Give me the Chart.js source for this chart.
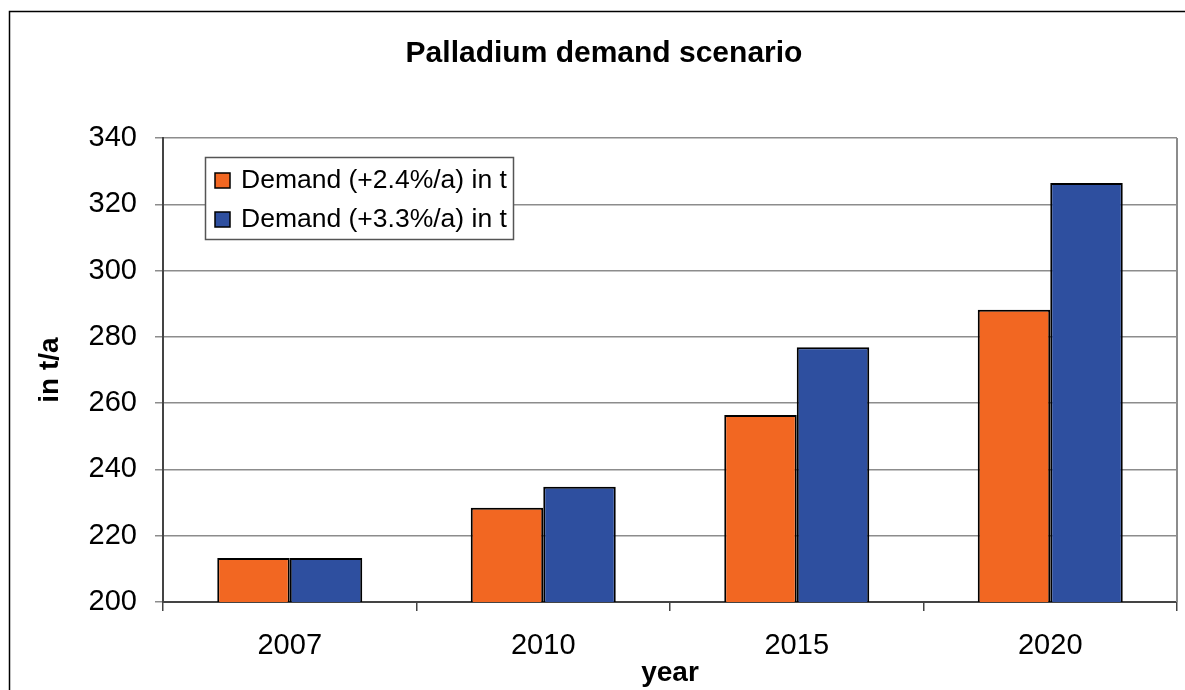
<!DOCTYPE html>
<html lang="en">
<head>
  <meta charset="UTF-8">
  <title>Palladium demand scenario</title>
  <style>
    html, body {
      margin: 0;
      padding: 0;
      background-color: #ffffff;
    }
    .chartBox {
      position: relative;
      width: 1185px;
      height: 690px;
    }
  </style>
</head>
<body>
<script src="https://cdn.jsdelivr.net/npm/chart.js"></script>

<div class="chartBox">
  <canvas id="barChart"></canvas>
</div>

<script>
  // data
  const years = ['2007', '2010', '2015', '2020'];
  const demandLow = [213.3, 228.4, 256.4, 288.2];   // +2.4%/a
  const demandHigh = [213.3, 234.8, 276.9, 326.4];  // +3.3%/a
  const seriesNames = ['Demand (+2.4%/a) in t', 'Demand (+3.3%/a) in t'];
  const chartTitle = 'Palladium demand scenario';

  const fontName = '"Liberation Sans", Arial, sans-serif';

  // frame round the whole chart, title, right border of the plot, boxed legend
  const decorations = {
    id: 'decorations',
    beforeDraw(chart) {
      let ctx = chart.ctx;
      ctx.save();
      ctx.fillStyle = '#ffffff';
      ctx.fillRect(0, 0, chart.width, chart.height);
      ctx.strokeStyle = '#000000';
      ctx.lineWidth = 1.5;
      ctx.strokeRect(9.5, 11.5, chart.width + 20, chart.height + 20);
      ctx.restore();
    },
    afterDraw(chart) {
      let ctx = chart.ctx;
      let area = chart.chartArea;
      ctx.save();

      // title
      ctx.fillStyle = '#000000';
      ctx.font = 'bold 30px ' + fontName;
      ctx.textAlign = 'center';
      ctx.textBaseline = 'middle';
      ctx.fillText(chartTitle, 604, 54);

      // right border of plot area
      ctx.strokeStyle = '#8c8c8c';
      ctx.lineWidth = 2;
      ctx.beginPath();
      ctx.moveTo(area.right, area.top);
      ctx.lineTo(area.right, area.bottom);
      ctx.stroke();

      // legend
      let lx = area.left + 42, ly = area.top + 19;
      ctx.fillStyle = '#ffffff';
      ctx.fillRect(lx, ly, 308, 82);
      ctx.strokeStyle = '#555555';
      ctx.lineWidth = 1.5;
      ctx.strokeRect(lx + 0.5, ly + 0.5, 308, 82);
      ctx.font = '26.5px ' + fontName;
      ctx.textAlign = 'left';
      chart.data.datasets.forEach(function(ds, i) {
        let cy = ly + 23 + i * 39;
        ctx.fillStyle = ds.backgroundColor;
        ctx.fillRect(lx + 10, cy - 7, 15, 15);
        ctx.strokeStyle = '#000000';
        ctx.lineWidth = 1.5;
        ctx.strokeRect(lx + 10, cy - 7, 15, 15);
        ctx.fillStyle = '#000000';
        ctx.fillText(ds.label, lx + 36, cy + 1);
      });
      ctx.restore();
    }
  };

  const config = {
    type: 'bar',
    data: {
      labels: years,
      datasets: [{
        label: seriesNames[0],
        data: demandLow,
        backgroundColor: '#f26722',
        borderColor: '#000000',
        borderWidth: 2,
        categoryPercentage: 0.572,
        barPercentage: 1.0
      }, {
        label: seriesNames[1],
        data: demandHigh,
        backgroundColor: '#2e4f9f',
        borderColor: '#000000',
        borderWidth: 2,
        categoryPercentage: 0.572,
        barPercentage: 1.0
      }]
    },
    options: {
      responsive: false,
      animation: false,
      devicePixelRatio: 1,
      layout: {
        padding: {left: 0, right: 8, top: 138, bottom: 0}
      },
      plugins: {
        legend: {display: false},
        title: {display: false},
        tooltip: {enabled: false}
      },
      scales: {
        x: {
          grid: {
            offset: true,
            drawOnChartArea: false,
            drawTicks: true,
            tickLength: 9,
            color: '#444444',
            lineWidth: 1.5
          },
          border: {color: '#444444', width: 2},
          ticks: {
            color: '#000000',
            padding: 18,
            font: {family: fontName, size: 29}
          },
          title: {
            display: true,
            text: 'year',
            color: '#000000',
            padding: {top: 0, bottom: 0},
            font: {family: fontName, size: 28, weight: 'bold'}
          },
          afterFit: function(scale) { scale.height = 88; }
        },
        y: {
          min: 200,
          max: 340,
          grid: {
            color: '#8c8c8c',
            lineWidth: 1.5,
            drawTicks: true,
            tickLength: 8
          },
          border: {color: '#444444', width: 2},
          ticks: {
            stepSize: 20,
            color: '#000000',
            padding: 18,
            font: {family: fontName, size: 29}
          },
          title: {
            display: true,
            text: 'in t/a',
            color: '#000000',
            padding: {top: 33, bottom: 0},
            font: {family: fontName, size: 28, weight: 'bold'}
          },
          afterFit: function(scale) { scale.width = 163; }
        }
      }
    },
    plugins: [decorations]
  };

  let canvas = document.getElementById('barChart');
  canvas.width = 1185;
  canvas.height = 690;
  let barChart = new Chart(canvas, config);
</script>
</body>
</html>
